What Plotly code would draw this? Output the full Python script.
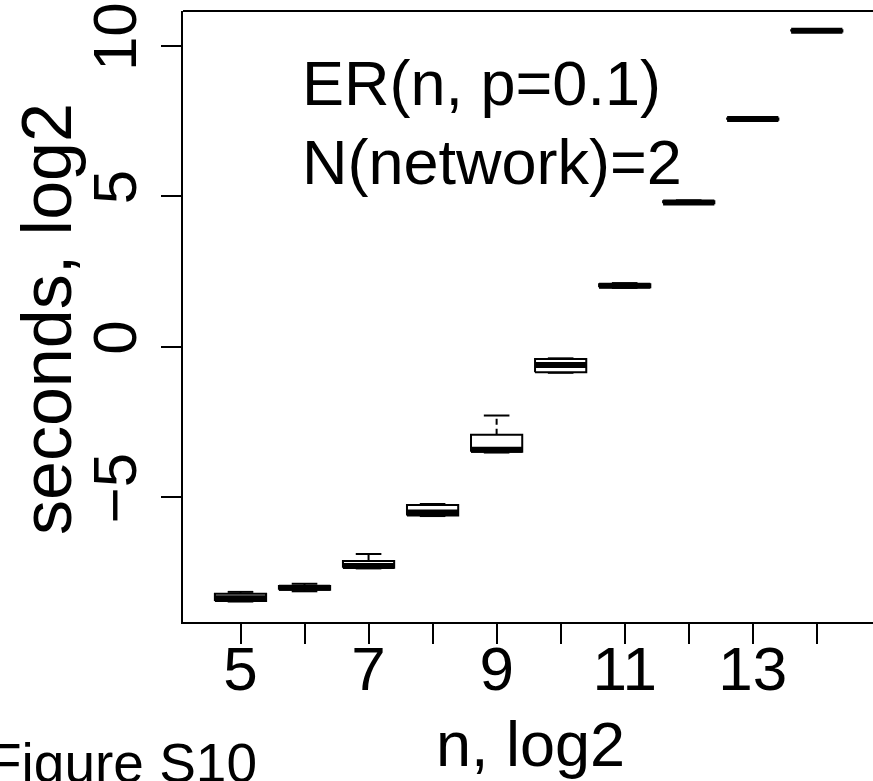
import plotly.graph_objects as go

# ---- data ----
n_log2 = [5, 6, 7, 8, 9, 10, 11, 12, 13, 14]
lower = [-8.46, -8.12, -7.36, -5.62, -3.51, -0.86, 1.96, 4.76, 7.54, 10.47]
q1 = [-8.44, -8.07, -7.34, -5.60, -3.48, -0.84, 1.98, 4.77, 7.55, 10.48]
median = [-8.35, -8.00, -7.28, -5.50, -3.42, -0.60, 2.03, 4.80, 7.57, 10.50]
q3 = [-8.20, -7.94, -7.11, -5.25, -2.92, -0.40, 2.08, 4.84, 7.59, 10.52]
upper = [-8.14, -7.87, -6.88, -5.22, -2.28, -0.38, 2.12, 4.87, 7.60, 10.53]

x_ticks = [5, 6, 7, 8, 9, 10, 11, 12, 13, 14]
x_ticktext = ["5", "", "7", "", "9", "", "11", "", "13", ""]
y_ticks = [-5, 0, 5, 10]

BOX_HALF = 0.4
STAPLE_HALF = 0.2
FONT = "Liberation Sans, Arial, Helvetica, sans-serif"

rx, ry, wx, wy, sx, sy, mx, my = [], [], [], [], [], [], [], []
for x, lo, a, m, b, hi in zip(n_log2, lower, q1, median, q3, upper):
    rx += [x - BOX_HALF, x + BOX_HALF, x + BOX_HALF, x - BOX_HALF, x - BOX_HALF, None]
    ry += [a, a, b, b, a, None]
    wx += [x, x, None, x, x, None]
    wy += [b, hi, None, a, lo, None]
    sx += [x - STAPLE_HALF, x + STAPLE_HALF, None, x - STAPLE_HALF, x + STAPLE_HALF, None]
    sy += [hi, hi, None, lo, lo, None]
    mx += [x - BOX_HALF, x + BOX_HALF, None]
    my += [m, m, None]

fig = go.Figure()
fig.add_trace(go.Scatter(x=wx, y=wy, mode="lines", line=dict(color="black", width=2, dash="6px,4px"),
                         hoverinfo="skip"))
fig.add_trace(go.Scatter(x=sx, y=sy, mode="lines", line=dict(color="black", width=2), hoverinfo="skip"))
fig.add_trace(go.Scatter(x=rx, y=ry, mode="lines", fill="toself", fillcolor="white",
                         line=dict(color="black", width=2), hoverinfo="skip"))
fig.add_trace(go.Scatter(x=mx, y=my, mode="lines", line=dict(color="black", width=6), hoverinfo="skip"))

fig.update_layout(
    width=873, height=781,
    margin=dict(l=183, r=0, t=11, b=159, autoexpand=False),
    paper_bgcolor="white", plot_bgcolor="white",
    showlegend=False,
    font=dict(family=FONT, color="black", size=62),
    xaxis=dict(range=[4.102, 14.878], tickvals=x_ticks, ticktext=x_ticktext,
               ticks="outside", ticklen=20, tickwidth=2, tickcolor="black",
               ticklabelstandoff=-28, automargin=False,
               showline=True, linecolor="black", linewidth=2, showgrid=False, zeroline=False,
               tickfont=dict(size=62, family=FONT)),
    yaxis=dict(range=[-9.14, 11.16], tickvals=y_ticks, tickangle=-90,
               ticks="outside", ticklen=20, tickwidth=2, tickcolor="black",
               automargin=False,
               showline=True, linecolor="black", linewidth=2, showgrid=False, zeroline=False,
               tickfont=dict(size=62, family=FONT)),
    shapes=[dict(type="line", xref="paper", yref="paper", x0=0, x1=1, y0=1, y1=1,
                 line=dict(color="black", width=2))],
    annotations=[
        dict(text="ER(n, p=0.1)", xref="paper", yref="paper", x=0.1696, y=0.882,
             xanchor="left", yanchor="middle", showarrow=False, font=dict(size=63)),
        dict(text="N(network)=2", xref="paper", yref="paper", x=0.1696, y=0.753,
             xanchor="left", yanchor="middle", showarrow=False, font=dict(size=63)),
        dict(text="n, log2", xref="paper", yref="paper", x=0.503, y=-0.2,
             xanchor="center", yanchor="middle", showarrow=False, font=dict(size=63)),
        dict(text="seconds, log2", xref="paper", yref="paper", x=-0.197, y=0.496,
             xanchor="center", yanchor="middle", textangle=-90, showarrow=False, font=dict(size=70)),
        dict(text="Figure S10", xref="paper", yref="paper", x=-0.285, y=-0.231,
             xanchor="left", yanchor="middle", showarrow=False, font=dict(size=55)),
    ],
)

fig.write_html("out.html", config={"displayModeBar": False},
               post_script="document.body.style.margin='0';document.body.style.overflow='hidden';")
